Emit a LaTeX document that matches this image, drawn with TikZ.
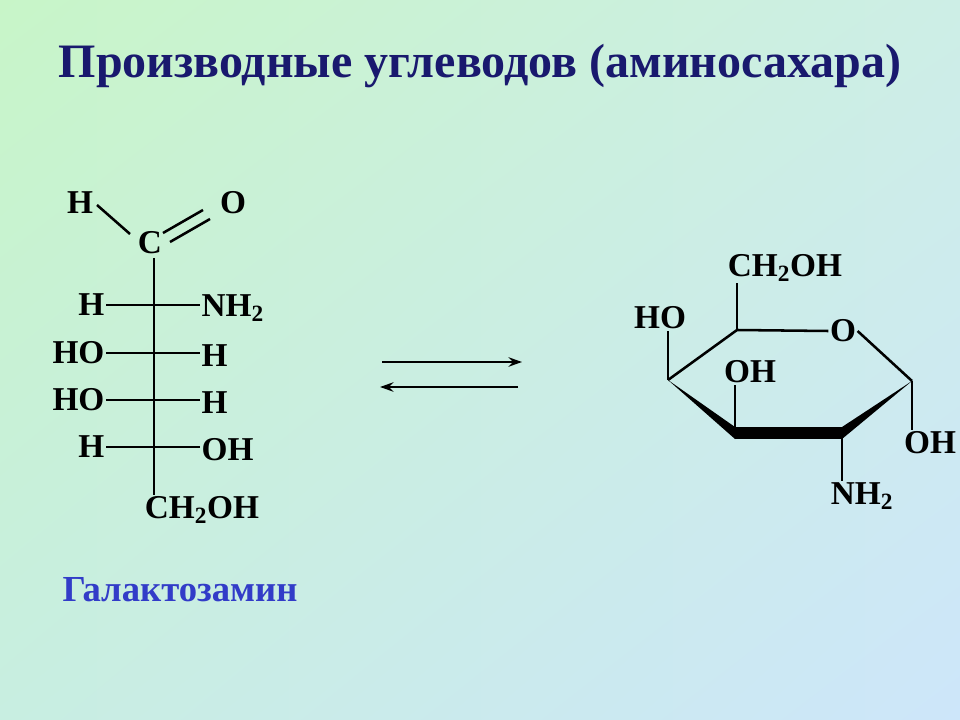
\documentclass[tikz,border=0pt]{standalone}
\usepackage{fontspec}
\setmainfont{Liberation Serif}
\usetikzlibrary{calc,shadings,arrows.meta}
\definecolor{bgul}{RGB}{200,245,200}
\definecolor{bgur}{RGB}{205,238,230}
\definecolor{bgll}{RGB}{200,238,225}
\definecolor{bglr}{RGB}{205,230,250}
\definecolor{titleblue}{RGB}{25,25,110}
\definecolor{nameblue}{RGB}{50,60,200}
\begin{document}
\begin{tikzpicture}[x=0.75pt,y=-0.75pt,
        atom/.style={font=\bfseries\fontsize{25}{28}\selectfont, inner sep=1pt},
        bond/.style={line width=1.9pt},
    ]
        \useasboundingbox (0,0) rectangle (960,720);
        \shade[upper left=bgul, upper right=bgur, lower left=bgll, lower right=bglr]
            (0,0) rectangle (960,720);

        %Title
        \node[font=\bfseries\fontsize{36}{40}\selectfont, text=titleblue] (title) at (480,66) {Производные углеводов (аминосахара)};
        \node[font=\bfseries\fontsize{27.5}{30}\selectfont, text=nameblue] (name) at (180,590) {Галактозамин};

        %Fischer projection
        \node[atom] (c1) at (150,243) {C};
        \node[atom] (h0) at (80,203) {H};
        \node[atom] (o0) at (233,203) {O};
        \node[atom] (ch2oh) at (202,510) {CH$_\mathbf{2}$OH};
        \coordinate (top) at (154,258);
        \coordinate (bot) at (154,495);
        \draw[bond] (top) -- (bot);
        \draw[bond] (97,205) -- (130,234);
        \draw[bond] (163,233) -- (203,210);
        \draw[bond] (170,242) -- (210,219);
        \foreach \y/\l/\r [count=\i] in {305/H/NH$_\mathbf{2}$,353/HO/H,400/HO/H,447/H/OH}{
            \node[atom, anchor=east] (l\i) at (106,\y) {\l};
            \node[atom, anchor=west] (r\i) at (200,\y+3) {\r};
            \draw[bond] (l\i.east) -- (r\i.west |- l\i.east);
        }

        %Arrows
        \coordinate (a1) at (382,362);
        \coordinate (a2) at (522,362);
        \coordinate (b1) at (518,387);
        \coordinate (b2) at (380,387);
        \draw[bond,-{Stealth[length=10pt,width=7pt]}] (a1) -- (a2);
        \draw[bond,-{Stealth[length=10pt,width=7pt]}] (b1) -- (b2);

        %Haworth ring
        \coordinate (r4) at (668,380);
        \coordinate (r5) at (737,330);
        \node[atom] (ro) at (843,331) {O};
        \coordinate (r1) at (912,381);
        \coordinate (r2) at (842,433);
        \coordinate (r3) at (735,433);
        \draw[bond] (r4) -- (r5) -- (ro.west);
        \draw[bond] (ro.east) -- (r1);
        \fill (r4) -- ($(r3)+(0,6)$) -- ($(r3)+(0,-6)$) -- cycle;
        \fill ($(r3)+(0,-6)$) rectangle ($(r2)+(0,6)$);
        \fill (r1) -- ($(r2)+(0,-6)$) -- ($(r2)+(0,6)$) -- cycle;

        \node[atom] (ch2) at (785,268) {CH$_\mathbf{2}$OH};
        \node[atom] (ho4) at (660,318) {HO};
        \node[atom] (oh3) at (750,372) {OH};
        \node[atom] (oh1) at (930,443) {OH};
        \node[atom] (nh2) at (862,496) {NH$_\mathbf{2}$};
        \draw[bond] (r5) -- (r5 |- ch2.south);
        \draw[bond] (r4) -- (r4 |- ho4.south);
        \draw[bond] (r3) -- (r3 |- oh3.south);
        \draw[bond] (r1) -- (r1 |- oh1.north);
        \draw[bond] (r2) -- (r2 |- nh2.north);
    \end{tikzpicture}
\end{document}
